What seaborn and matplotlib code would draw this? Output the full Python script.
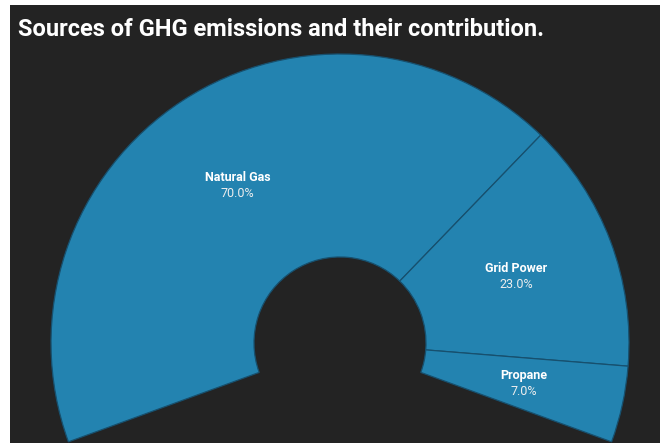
import matplotlib
matplotlib.use("Agg")
import matplotlib.pyplot as plt
from matplotlib.patches import Rectangle
import numpy as np
import seaborn as sns

# Emission sources and their share of total GHG emissions (%)
sources = ["Natural Gas", "Grid Power", "Propane"]
shares = [70.0, 23.0, 7.0]

BG = "#232323"
BLUE = "#2383b0"
EDGE = "#17506e"

sns.set_theme(style="dark", rc={"figure.facecolor": BG, "axes.facecolor": BG})
plt.rcParams["font.family"] = ["Roboto", "DejaVu Sans"]
palette = sns.color_palette([BLUE] * len(sources))

W, H = 660, 443
fig = plt.figure(figsize=(W / 100, H / 100), dpi=100)
fig.patch.set_facecolor(BG)

# light page margin on the left and top
fig.patches.append(Rectangle((0, 0), 10 / W, 1, transform=fig.transFigure,
                             facecolor="white", edgecolor="none", zorder=0))
fig.patches.append(Rectangle((0, 1 - 5 / H), 1, 5 / H, transform=fig.transFigure,
                             facecolor="white", edgecolor="none", zorder=0))

# axes in pixel units
ax = fig.add_axes([0, 0, 1, 1])
ax.set_facecolor("none")

# arc spans 220 degrees; an invisible filler closes the circle
arc_span = 220.0
filler = sum(shares) * (360.0 - arc_span) / arc_span
cx, cy = 340, H - 343
r_out, r_in = 289, 86

wedges, _ = ax.pie(
    shares + [filler],
    colors=list(palette) + [BG],
    startangle=200,
    counterclock=False,
    radius=r_out,
    center=(cx, cy),
    wedgeprops=dict(width=r_out - r_in, edgecolor=EDGE, linewidth=0.9),
    frame=True,
)
wedges[-1].set_visible(False)

ax.set_xlim(0, W)
ax.set_ylim(0, H)
ax.set_aspect("auto")
ax.axis("off")

# labels at the middle of each wedge
r_lab = 188
for w, name, val in zip(wedges[:-1], sources, shares):
    mid = np.deg2rad((w.theta1 + w.theta2) / 2)
    x = cx + r_lab * np.cos(mid)
    y = cy + r_lab * np.sin(mid)
    ax.text(x, y + 8, name, ha="center", va="center", color="white",
            fontsize=9, fontweight="bold")
    ax.text(x, y - 8, f"{val:.1f}%", ha="center", va="center", color="#eeeeee",
            fontsize=9)

fig.text(18 / W, 1 - 30 / H, "Sources of GHG emissions and their contribution.",
         color="white", fontsize=17, fontweight="bold", ha="left", va="center")

fig.savefig("out.png", dpi=100, facecolor=BG)
